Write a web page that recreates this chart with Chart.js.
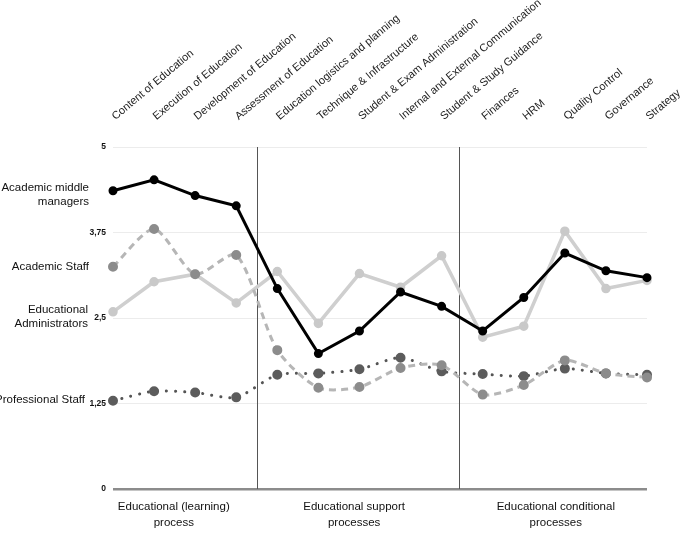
<!DOCTYPE html>
<html>
<head>
<meta charset="utf-8">
<script src="https://cdn.jsdelivr.net/npm/chart.js@4.4.1/dist/chart.umd.min.js"></script>
<style>
  html, body { margin: 0; padding: 0; background: #fff; }
</style>
</head>
<body>
<canvas id="chart" width="685" height="534"></canvas>
<script>
var categories = ['Content of Education', 'Execution of Education', 'Development of Education',
    'Assessment of Education', 'Education logistics and planning', 'Technique & Infrastructure',
    'Student & Exam Administration', 'Internal and External Communication', 'Student & Study Guidance',
    'Finances', 'HRM', 'Quality Control', 'Governance', 'Strategy'];

var middleManagers    = [4.36, 4.52, 4.29, 4.14, 2.93, 1.98, 2.31, 2.88, 2.67, 2.31, 2.80, 3.45, 3.19, 3.09];
var academicStaff     = [3.25, 3.80, 3.14, 3.42, 2.03, 1.48, 1.49, 1.77, 1.81, 1.38, 1.52, 1.88, 1.69, 1.63];
var eduAdministrators = [2.59, 3.03, 3.14, 2.72, 3.18, 2.42, 3.15, 2.95, 3.41, 2.22, 2.38, 3.77, 2.93, 3.05];
var professionalStaff = [1.29, 1.43, 1.41, 1.34, 1.67, 1.69, 1.75, 1.92, 1.72, 1.68, 1.65, 1.76, 1.69, 1.67];

var yTicks = [0, 1.25, 2.5, 3.75, 5];

// process groups; separators sit between categories (index units)
var groupNames = [['Educational (learning)', 'process'], ['Educational support', 'processes'], ['Educational conditional', 'processes']];
var separators = [3.5, 8.43];

// series names shown at the left
var seriesLabels = [['Academic middle', 'managers'], ['Academic Staff'], ['Educational', 'Administrators'], ['Professional Staff']];

var FONT = '"Liberation Sans", Arial, Helvetica, sans-serif';

var annotate = {
    id: 'annotate',
    beforeDatasetsDraw: function (chart) {
        var ctx = chart.ctx, x = chart.scales.x, a = chart.chartArea;
        ctx.save();
        ctx.strokeStyle = '#555';
        ctx.lineWidth = 1;
        separators.forEach(function (s) {
            var px = Math.round(x.getPixelForValue(s)) + 0.5;
            ctx.beginPath();
            ctx.moveTo(px, a.top);
            ctx.lineTo(px, a.bottom);
            ctx.stroke();
        });
        ctx.restore();
    },
    afterDraw: function (chart, args, opts) {
        var ctx = chart.ctx, x = chart.scales.x, y = chart.scales.y, a = chart.chartArea;
        ctx.save();
        ctx.fillStyle = '#111';
        ctx.textBaseline = 'middle';

        // group captions below the plot
        ctx.font = '11.5px ' + FONT;
        ctx.textAlign = 'center';
        groupNames.forEach(function (lines, g) {
            var cx = x.getPixelForValue(opts.groupAt[g]);
            lines.forEach(function (line, k) {
                ctx.fillText(line, cx, a.bottom + 18 + k * 16);
            });
        });

        // series names on the left
        ctx.font = '11.5px ' + FONT;
        ctx.textAlign = 'right';
        seriesLabels.forEach(function (lines, s) {
            var cy = y.getPixelForValue(opts.labelAt[s]) - (lines.length - 1) * 7;
            lines.forEach(function (line, k) {
                ctx.fillText(line, opts.labelRight[s], cy + k * 14);
            });
        });
        ctx.restore();
    }
};

var ctx = document.getElementById('chart').getContext('2d');
var myChart = new Chart(ctx, {
    type: 'line',
    data: {
        labels: categories,
        datasets: [{
            label: 'Academic middle managers',
            data: middleManagers,
            borderColor: '#000',
            backgroundColor: '#000',
            pointBorderColor: '#000',
            borderWidth: 3,
            pointRadius: 3,
            tension: 0
        }, {
            label: 'Academic Staff',
            data: academicStaff,
            borderColor: '#b6b6b6',
            backgroundColor: '#8c8c8c',
            pointBorderColor: '#8c8c8c',
            borderWidth: 3,
            borderDash: [7, 5],
            pointRadius: 3.5,
            tension: 0.25
        }, {
            label: 'Educational Administrators',
            data: eduAdministrators,
            borderColor: '#cfcfcf',
            backgroundColor: '#c9c9c9',
            pointBorderColor: '#c9c9c9',
            borderWidth: 3.5,
            pointRadius: 3,
            tension: 0
        }, {
            label: 'Professional Staff',
            data: professionalStaff,
            borderColor: '#555',
            backgroundColor: '#5c5c5c',
            pointBorderColor: '#5c5c5c',
            borderWidth: 3,
            borderDash: [0.1, 9],
            borderCapStyle: 'round',
            pointRadius: 3.5,
            tension: 0.25
        }]
    },
    options: {
        responsive: false,
        animation: false,
        devicePixelRatio: 1,
        layout: { padding: { left: 0, right: 38, top: 0, bottom: 45 } },
        plugins: {
            legend: { display: false },
            tooltip: { enabled: false },
            annotate: {
                groupAt: [1.48, 5.87, 10.78],
                labelAt: [4.3, 3.25, 2.52, 1.3],
                labelRight: [89, 89, 88, 85]
            }
        },
        scales: {
            x: {
                position: 'top',
                offset: false,
                grid: { display: false, drawTicks: false },
                border: { display: false },
                ticks: {
                    autoSkip: false,
                    minRotation: 40,
                    maxRotation: 40,
                    padding: 24,
                    labelOffset: 9,
                    color: '#222',
                    font: { family: FONT, size: 11 }
                },
                afterFit: function (scale) {
                    scale.height = 147;
                    scale.paddingLeft = 0;
                    scale.paddingRight = 0;
                }
            },
            y: {
                min: 0,
                max: 5,
                afterBuildTicks: function (scale) {
                    scale.ticks = yTicks.map(function (v) { return { value: v }; });
                },
                grid: {
                    drawTicks: false,
                    color: function (c) { return c.tick && c.tick.value === 0 ? '#8c8c8c' : '#ececec'; },
                    lineWidth: function (c) { return c.tick && c.tick.value === 0 ? 2.5 : 1; }
                },
                border: { display: false },
                ticks: {
                    padding: 7,
                    color: '#111',
                    font: { family: FONT, size: 8.5, weight: 'bold' },
                    callback: function (v) { return String(v).replace('.', ','); }
                },
                afterFit: function (scale) {
                    scale.width = 113;
                }
            }
        }
    },
    plugins: [annotate]
});
</script>
</body>
</html>
